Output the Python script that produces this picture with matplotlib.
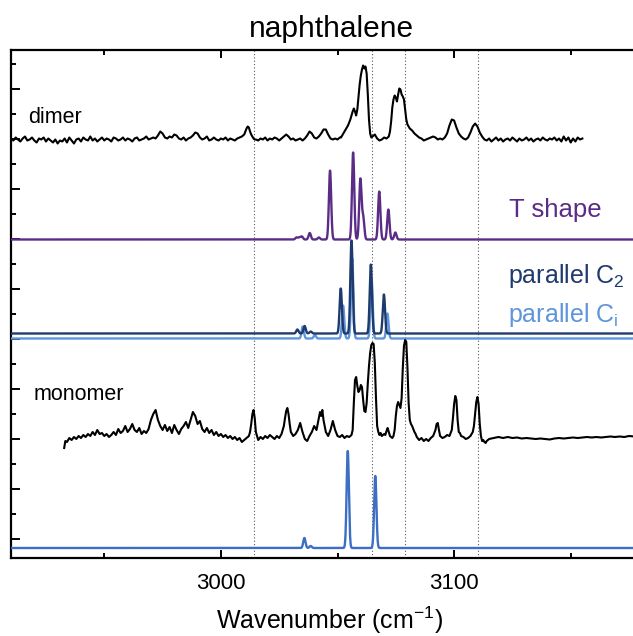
import numpy as np
import matplotlib

matplotlib.use("Agg")
import matplotlib.pyplot as plt

plt.rcParams["font.family"] = ["Liberation Sans", "DejaVu Sans"]
plt.rcParams["mathtext.default"] = "regular"

# --- experimental spectra (intensity above baseline, a.u.) ---
dimer_wn = (list(range(2909, 3010))
            + [3010, 3010.5, 3011, 3011.5, 3012, 3012.5, 3013, 3013.5, 3014, 3014.5]
            + list(range(3015, 3051))
            + [3050.5, 3051, 3051.5, 3052, 3052.5, 3053, 3053.5, 3054, 3054.5, 3055,
               3055.5, 3056, 3056.5, 3057, 3057.5, 3058, 3058.5, 3059, 3059.5, 3060,
               3060.5, 3061, 3061.5, 3062, 3062.5, 3063, 3063.5, 3064, 3064.5, 3065,
               3065.5, 3066]
            + [3066.5, 3067, 3068, 3069, 3070, 3071, 3072, 3072.5, 3073, 3073.5,
               3074, 3074.5, 3075, 3075.5, 3076, 3076.5, 3077, 3077.5, 3078, 3078.5,
               3079, 3079.5, 3080, 3080.5, 3081, 3082, 3083, 3084, 3085, 3086]
            + list(range(3087, 3156)))
dimer_int = [0, 1, -1, 2, 0, -2, 1, 3, -1, 0,
             2, -1, -3, 1, 0, 2, -2, 1, -1, -3,
             0, -4, -1, -2, 1, -3, 2, -1, -4, 0,
             1, -2, 2, 0, -1, 3, -1, 1, -2, 0,
             2, -1, 1, 0, -2, 2, 1, -1, 0, 2,
             -1, 1, 0, -2, 1, 2, -1, 0, 1, 3,
             0, 1, 2, 1, 4, 8, 6, 2, 1, 3,
             2, 5, 4, 1, 0, 2, -1, 1, 2, 4,
             7, 6, 2, 0, 1, 3, -1, 0, 2, 0,
             -1, 1, 0, 2, -1, 1, 0, -1, 1, 2,
             3,
             5, 8, 11, 13, 12, 8, 5, 3, 1, 0,
             0, -1, 1, 0, 2, -1, 1, 0, 2, 1,
             -1, 1, 3, 5, 3, 0, 1, -1, 0, 1,
             -1, 1, 4, 8, 6, 2, 1, 3, 6, 10,
             10, 5, 1, 0, 1, 0,
             1, 2, 2, 4, 6, 8, 10, 12, 14, 17,
             20, 24, 28, 31, 28, 24, 30, 42, 55, 64,
             70, 74, 71, 73, 66, 45, 20, 6, 2, 3,
             4, 5,
             3, 1, -1, 0, 2, 1, 3, 8, 18, 32,
             40, 44, 42, 38, 45, 51, 50, 45, 43, 40,
             30, 20, 15, 13, 11, 9, 6, 4, 2, 1,
             -1, 0, 1, 2, 3, 2, 0, 1, 0, 2,
             6, 14, 20, 19, 12, 6, 3, 1, 0, 2,
             7, 13, 16, 13, 7, 3, 0, -1, 1, -2,
             0, 2, -1, 1, -2, 0, 1, -1, 2, 0,
             -2, 1, -1, 0, 2, -1, 1, -2, 0, 1,
             -1, 2, 0, -1, 1, 0, 2, -1, 1, -2,
             3, -1, 2, -3, 1, -2, 2, 0, 1]

monomer_wn = ([2932.8, 2933.3]
              + list(range(2934, 3012))
              + [3012, 3012.5, 3013, 3013.5, 3014, 3014.5, 3015]
              + list(range(3016, 3027))
              + [3027, 3027.5, 3028, 3028.5, 3029, 3029.5, 3030]
              + list(range(3031, 3042))
              + [3042, 3042.5, 3043, 3043.5, 3044]
              + list(range(3045, 3057))
              + list(np.arange(3056.5, 3084.25, 0.5))
              + list(range(3085, 3092))
              + [3092, 3092.5, 3093, 3093.5, 3094]
              + list(range(3095, 3099))
              + [3099, 3099.5, 3100, 3100.5, 3101, 3101.5, 3102, 3102.5, 3103]
              + list(range(3104, 3108))
              + [3108, 3108.5, 3109, 3109.5, 3110, 3110.5, 3111, 3111.5, 3112,
                 3112.5, 3113, 3113.5, 3114]
              + list(range(3115, 3195, 2)))
monomer_int = [-10, -3,
               -4, 0, -2, 1, -1, 2, 0, 3, 1, 4,
               2, 6, 3, 8, 4, 5, 2, 4, 1, 3,
               6, 3, 9, 5, 7, 12, 6, 9, 14, 8,
               6, 10, 4, 7, 5, 9, 18, 24, 28, 18,
               12, 8, 13, 7, 11, 5, 13, 8, 4, 9,
               12, 16, 10, 18, 26, 22, 14, 17, 9, 6,
               10, 5, 8, 3, 6, 2, 4, 1, 3, 0,
               2, -1, 1, -2, 0, -4, -2, 0,
               2, 6, 14, 24, 28, 20, 6,
               -2, 1, -1, 2, 0, 3, 1, -1, 2, 0, 4,
               12, 20, 27, 30, 24, 14, 6,
               2, 4, 8, 15, 6, -1, -3, 2, 6, 12, 8,
               20, 26, 22, 28, 18,
               6, 2, 8, 17, 8, 2, 1, 3, 0, 2, 1, 3,
               8, 35, 58, 61, 52, 46, 48, 53, 51, 38,
               27, 26, 35, 55, 72, 85, 93, 95, 94, 75,
               40, 12, 6, 3, 5, 2, 3, 4, 3, 7,
               10, 6, 2, 1, 0, 2, 8, 22, 32, 36,
               33, 30, 40, 70, 92, 98, 96, 70, 35, 18,
               14, 12, 9, 6, 4, 1,
               -2, 0, -3, -1, -3, 0, 2,
               8, 14, 15, 8, 2,
               0, 1, 3, 2,
               8, 20, 34, 42, 38, 18, 6, 5, 2,
               1, -1, 0, 2,
               6, 12, 24, 36, 41, 34, 14, 2, -3, -2, -4, -5, -3,
               -1, 0, 1, 0, 1, 0, 0.5, -0.5, 0, -0.5,
               -1, -0.5, -1, -1.5, -0.5, 0, -0.5, 0, 0.5, 0,
               0.5, 1, 0.5, 1, 0.5, 1, 1.5, 1, 1.5, 1,
               2, 1.5, 2, 1.5, 2, 1.5, 2, 1.5, 2, 2]

# --- calculated stick spectra (band centre, peak height) ---
tshape_pos = [3032.4, 3033.6, 3034.7, 3038.1, 3042.0, 3046.8, 3056.7, 3059.8, 3061.0,
              3067.9, 3071.8, 3074.8]
tshape_amp = [2, 2, 3, 6.5, 2, 69, 87, 60, 22, 48, 30, 7]
c2_pos = [3032.8, 3035.9, 3038.5, 3051.4, 3056.0, 3064.3, 3069.9]
c2_amp = [4, 7.5, 2, 45, 93, 69, 39]
ci_pos = [3035.1, 3040.3, 3052.4, 3056.3, 3064.6, 3071.4]
ci_amp = [12, 3.5, 33, 80, 60, 25]
mono_calc_pos = [3035.8, 3038.5, 3054.4, 3066.2]
mono_calc_amp = [10, 2, 97, 72]

guide_lines = [3014.0, 3064.7, 3079.0, 3110.3]

PURPLE = "#5B2C86"
NAVY = "#1F3A6D"
LIGHT = "#5E95DB"
BLUE = "#3C6EC4"


def broaden(pos, amp, grid, fwhm=1.15):
    sigma = fwhm / 2.3548
    out = np.zeros_like(grid)
    for c, h in zip(pos, amp):
        out += h * np.exp(-0.5 * ((grid - c) / sigma) ** 2)
    return out


fig = plt.figure(figsize=(6.33, 6.36), dpi=100)
ax = fig.add_axes([11 / 633, 78 / 636, 653 / 633, 508 / 636])

grid = np.linspace(2905, 3195, 4000)

for x in guide_lines:
    ax.axvline(x, color="#555555", lw=0.8, ls=(0, (1, 2)), zorder=1)

ax.plot(dimer_wn, np.array(dimer_int) + 418.5, color="black", lw=1.5, zorder=3)
ax.plot(grid, broaden(tshape_pos, tshape_amp, grid) + 318.5, color=PURPLE, lw=1.7, zorder=3)
ax.plot(grid, broaden(ci_pos, ci_amp, grid) + 219.5, color=LIGHT, lw=1.7, zorder=3)
ax.plot(grid, broaden(c2_pos, c2_amp, grid) + 224.5, color=NAVY, lw=1.7, zorder=4)
ax.plot(monomer_wn, np.array(monomer_int) + 120, color="black", lw=1.5, zorder=3)
ax.plot(grid, broaden(mono_calc_pos, mono_calc_amp, grid) + 10, color=BLUE, lw=1.7, zorder=3)

ax.text(2917.4, 435.3, "dimer", fontsize=15.5, va="baseline")
ax.text(2919.6, 158, "monomer", fontsize=15.5, va="baseline")
ax.text(3123.6, 341.3, "T shape", fontsize=18.5, color=PURPLE, va="baseline")
ax.text(3123.2, 275.3, "parallel C$_2$", fontsize=18, color=NAVY, va="baseline")
ax.text(3123.2, 236.3, "parallel C$_i$", fontsize=18, color=LIGHT, va="baseline")

ax.set_xlim(2910, 3190)
ax.set_ylim(0, 508)
ax.set_xticks([3000, 3100])
ax.set_xticks([2950, 3050, 3150], minor=True)
ax.set_yticks(np.arange(19, 470, 50))
ax.set_yticks(np.arange(44, 500, 50), minor=True)
ax.set_yticklabels([])
ax.tick_params(axis="x", which="both", direction="in", top=True, labelsize=16, pad=10.5)
ax.tick_params(axis="x", which="major", length=6, width=1.4)
ax.tick_params(axis="x", which="minor", length=3.5, width=1.4)
ax.tick_params(axis="y", which="major", direction="in", length=6.5, width=1.4)
ax.tick_params(axis="y", which="minor", direction="in", length=3.5, width=1.4)
for sp in ax.spines.values():
    sp.set_linewidth(1.6)

fig.text(332 / 633, 1 - 37 / 636, "naphthalene", fontsize=21.5, ha="center", va="baseline")
fig.text(330 / 633, 1 - 629 / 636, "Wavenumber (cm$^{-1}$)", fontsize=18, ha="center",
         va="baseline")

fig.savefig("out.png", dpi=100)
